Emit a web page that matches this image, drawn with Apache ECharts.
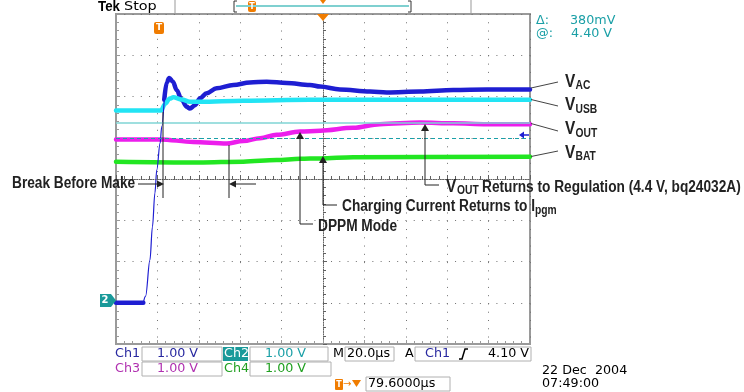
<!DOCTYPE html>
<html><head><meta charset="utf-8">
<script src="https://cdn.jsdelivr.net/npm/echarts@6/dist/echarts.min.js"></script>
<style>html,body{margin:0;padding:0;background:#fff}#c{width:744px;height:392px}</style>
</head><body><div id="c"></div>
<script>
// ---- data (time in µs, 20 µs/div; amplitude in screen divisions, 1 V/div) ----
const timeRange = [-100, 100];
const divRange = [-4, 4];
const vAC = [[-100,-3.00],[-86.8,-3.00],[-85.7,-2.84],[-83.6,-1.96],[-82.4,-1.16],[-81.2,-0.34],[-80.3,0.22],[-78.7,0.87],[-77.9,1.27],[-76.7,1.92],[-75.5,2.34],[-74.3,2.45],[-72.5,2.36],[-70.7,2.16],[-68.3,1.92],[-65.8,1.75],[-64.3,1.71],[-61.8,1.79],[-59.4,1.96],[-56.2,2.08],[-51.4,2.20],[-43.3,2.28],[-35.3,2.34],[-27.2,2.36],[-17.5,2.33],[-6.3,2.28],[-1.4,2.24],[8.2,2.17],[22.7,2.12],[30.8,2.10],[46.9,2.12],[62.9,2.16],[79.1,2.17],[100,2.17]];
const vUSB = [[-100,1.66],[-78.3,1.66],[-76.3,1.82],[-74.0,1.95],[-72.3,1.98],[-68.3,1.93],[-64.3,1.87],[-59.4,1.87],[-38.5,1.90],[-6.3,1.92],[46.9,1.92],[100,1.92]];
const vOUT = [[-100,0.96],[-78.7,0.96],[-62.7,0.90],[-46.5,0.86],[-38.5,0.92],[-30.4,0.99],[-22.4,1.07],[-11.1,1.15],[-1.4,1.17],[14.6,1.24],[27.5,1.33],[46.9,1.37],[62.9,1.35],[79.1,1.33],[100,1.33]];
const vBAT = [[-100,0.42],[-60,0.40],[-38.5,0.42],[-22.4,0.46],[-11.1,0.49],[-1.4,0.50],[14.6,0.53],[100,0.54]];
const acFastEdge = [-86.8, -76.7];
const cursorLevels = [1.36, 0.98];
const centerLevel = 0;
const traceNames = ['AC', 'USB', 'OUT', 'BAT'];
const channelNames = ['Ch1', 'Ch2', 'Ch3', 'Ch4'];
const channelScales = ['1.00 V', '1.00 V', '1.00 V', '1.00 V'];
const timebase = '20.0µs';
const triggerLevel = '4.10 V';
const triggerOffset = '79.6000µs';
const cursorReadout = ['380mV', '4.40 V'];
const dateLines = ['22 Dec  2004', '07:49:00'];

// ---- styles ----
const C_BLUE = '#1e1ed2', C_CYAN = '#22e4f4', C_MAG = '#ec1eec', C_GREEN = '#22e622';
const ORANGE = '#f07c00', TEAL = '#1a9fa6', TEAL_BG = '#1a9a9a';
const T_BLUE = '#2828a0', T_MAG = '#b030b0', T_GREEN = '#20a020';
const SCOPE = 'DejaVu Sans';
const LBLF = '"Liberation Sans", Arial, sans-serif';

function txt(x, y, s, o) {
  o = o || {};
  return {type:'text', x:x, y:y, scaleX:o.sx||1, z:100, silent:true,
    style:{text:s, fill:o.c||'#000', fontSize:o.fs||12, fontFamily:o.ff||SCOPE, fontWeight:o.fw||'normal',
      align:o.al||'left', verticalAlign:'middle', textAlign:o.al||'left', textVerticalAlign:'middle'}};
}
function ln(x1,y1,x2,y2,c,w,dash) {
  return {type:'line', z:100, silent:true, shape:{x1:x1,y1:y1,x2:x2,y2:y2}, style:{stroke:c||'#222', lineWidth:w||1, lineDash:dash||null}};
}
function pl(pts,c,w){ return {type:'polyline', z:100, silent:true, shape:{points:pts}, style:{stroke:c||'#222', lineWidth:w||1, fill:null}}; }
function pg(pts,c){ return {type:'polygon', z:100, silent:true, shape:{points:pts}, style:{fill:c||'#222'}}; }
function rc(x,y,w,h,fill,stroke,r){ return {type:'rect', z:95, silent:true, shape:{x:x,y:y,width:w,height:h,r:r||0}, style:{fill:fill||'#fff', stroke:stroke||null, lineWidth:1}}; }

const LBL = {fs:16, fw:'bold', ff:LBLF, sx:0.855, c:'#222'};
const VBIG = {fs:18, fw:'bold', ff:LBLF, sx:0.855, c:'#222'};
const SUB = {fs:12, fw:'bold', ff:LBLF, sx:0.855, c:'#222'};
const ST = {fs:12, sx:1.06};

const g = [];
// header
g.push(txt(98,7,'Tek',{fs:14,fw:'bold',ff:LBLF,sx:0.95}));
g.push(txt(124,7,'Stop',{fs:12,sx:1.2}));
g.push(ln(175,0,175,14,'#999',1));
g.push(pl([[237,1],[234,1],[234,12],[237,12]],'#333',1));
g.push(pl([[408,1],[411,1],[411,12],[408,12]],'#333',1));
g.push(ln(236,6,409,6,'#7fd0d0',2));
g.push(rc(248,1,8,11,ORANGE,null,2));
g.push(txt(252,6.5,'T',{fs:8,fw:'bold',c:'#fff',al:'center'}));
g.push(pg([[320,0],[326,0],[323,4]],ORANGE));
g.push(ln(471,0,471,14,'#999',1));
// markers on the graticule
g.push(pg([[317,14],[329,14],[323,21]],ORANGE));
g.push(rc(154,22,10,12,ORANGE,null,2));
g.push(txt(159,28,'T',{fs:9,fw:'bold',c:'#fff',al:'center'}));
g.push(pg([[100,294],[111,294],[116,300.5],[111,307],[100,307]],TEAL_BG));
g.push(txt(105,300.5,'2',{fs:10,fw:'bold',c:'#fff',al:'center'}));
g.push(pg([[519,135],[524,131.5],[524,138.5]],C_BLUE));
g.push(ln(524,135,529,135,C_BLUE,1.5));
// cursor readout
g.push(txt(536,21,'Δ:',{c:TEAL,fs:12,sx:1.06}));
g.push(txt(570,21,cursorReadout[0],{c:TEAL,fs:12,sx:1.06}));
g.push(txt(536,34,'@:',{c:TEAL,fs:12,sx:1.06}));
g.push(txt(571,34,cursorReadout[1],{c:TEAL,fs:12,sx:1.06}));
// trace labels
const lab = [[88,82,82,86],[99.5,106,105.5,109.5],[123.5,131,129.5,133.5],[156.5,151,153,157]];
lab.forEach(function(l,i){
  g.push(ln(531,l[0],558,l[1],'#444',1));
  g.push(txt(565,l[2],'V',VBIG));
  g.push(txt(575.5,l[3],traceNames[i],SUB));
});
// annotations
g.push(txt(12,184,'Break Before Make',LBL));
g.push(ln(138,184,158,184));
g.push(pg([[164,184],[157,180.5],[157,187.5]]));
g.push(ln(163,112,163,198));
g.push(ln(229,145,229,198));
g.push(pg([[229,184],[236,180.5],[236,187.5]]));
g.push(ln(236,184,256,184));

g.push(pg([[300,132],[296,139],[304,139]]));
g.push(ln(300,138,300,224));
g.push(ln(300,224,313,224));
g.push(txt(318,226.5,'DPPM Mode',LBL));

g.push(pg([[323,156],[319,163],[327,163]]));
g.push(ln(323,162,323,205));
g.push(ln(323,205,337,205));
g.push(txt(342,206.5,'Charging Current Returns to I',LBL));
g.push(txt(535,211,'pgm',SUB));

g.push(pg([[425,124],[421,131],[429,131]]));
g.push(ln(425,130,425,185));
g.push(ln(425,185,439,185));
g.push(txt(446,187,'V',VBIG));
g.push(txt(457,190.5,'OUT',SUB));
g.push(txt(482,188,'Returns to Regulation (4.4 V, bq24032A)',LBL));

// status bar
const chCol = [T_BLUE, TEAL, T_MAG, T_GREEN];
g.push(txt(115,354,channelNames[0],Object.assign({c:T_BLUE},ST)));
g.push(rc(142,347,80,14,'#fff','#b0b0b0'));
g.push(txt(157,354,channelScales[0],Object.assign({c:chCol[0]},ST)));
g.push(rc(223,347,25,14,TEAL_BG));
g.push(txt(224,354,channelNames[1],Object.assign({c:'#fff'},ST)));
g.push(rc(250,347,78,14,'#fff','#b0b0b0'));
g.push(txt(265,354,channelScales[1],Object.assign({c:chCol[1]},ST)));
g.push(txt(333,354,'M',ST));
g.push(rc(345,347,49,14,'#fff','#b0b0b0'));
g.push(txt(347,354,timebase,ST));
g.push(txt(405,354,'A',ST));
g.push(rc(415,347,116,14,'#fff','#b0b0b0'));
g.push(txt(425,354,channelNames[0],Object.assign({c:T_BLUE},ST)));
g.push(pl([[459,359],[462,359],[465,349],[468,349]],'#000',1.5));
g.push(txt(488,354,triggerLevel,ST));

g.push(txt(115,369,channelNames[2],Object.assign({c:T_MAG},ST)));
g.push(rc(142,362,80,14,'#fff','#b0b0b0'));
g.push(txt(157,369,channelScales[2],Object.assign({c:chCol[2]},ST)));
g.push(txt(224,369,channelNames[3],Object.assign({c:T_GREEN},ST)));
g.push(rc(250,362,81,14,'#fff','#b0b0b0'));
g.push(txt(265,369,channelScales[3],Object.assign({c:chCol[3]},ST)));

g.push(rc(335,379,8,11,ORANGE,null,1));
g.push(txt(339,384.5,'T',{fs:8,fw:'bold',c:'#fff',al:'center'}));
g.push(txt(343,384.5,'→',{fs:10,c:ORANGE}));
g.push(pg([[352,380],[361,380],[356.5,387]],ORANGE));
g.push(rc(366,377,84,14,'#fff','#b0b0b0'));
g.push(txt(368,384,triggerOffset,ST));
g.push(txt(542,371,dateLines[0],ST));
g.push(txt(542,384,dateLines[1],ST));

// ---- axes ----
const FRAME = '#9a9a9a';
const CENTER = '#606060';
const gridDots = {show:true, lineStyle:{color:'#707070', width:1, type:[1, 7.27]}};
const centerLine = {show:true, onZero:true, lineStyle:{color:CENTER, width:1, type:[1,1.3]}};
const centerTick = {show:true, inside:true, length:4, lineStyle:{color:CENTER}};
const centerMinor = {show:true, splitNumber:5, length:3, lineStyle:{color:CENTER}};
const xAxes = [
  {gridIndex:0, type:'value', min:timeRange[0], max:timeRange[1], interval:20, position:'bottom',
   axisLabel:{show:false},
   axisLine:{show:true, onZero:false, lineStyle:{color:FRAME, width:2}},
   axisTick:{show:true, inside:true, length:4, lineStyle:{color:FRAME}},
   minorTick:{show:true, splitNumber:5, length:3, lineStyle:{color:FRAME}},
   splitLine:gridDots},
  {gridIndex:0, type:'value', min:timeRange[0], max:timeRange[1], interval:20, position:'bottom',
   axisLabel:{show:false}, splitLine:{show:false},
   axisLine:Object.assign({onZeroAxisIndex:0}, centerLine), axisTick:centerTick, minorTick:centerMinor},
  {gridIndex:1, type:'value', min:timeRange[0], max:timeRange[1], interval:20, position:'bottom',
   axisLabel:{show:false}, splitLine:{show:false}, axisTick:{show:false},
   axisLine:{show:false, onZero:false}}
];
const yAxes = [
  {gridIndex:0, type:'value', min:divRange[0], max:divRange[1], interval:1, position:'left',
   axisLabel:{show:false},
   axisLine:{show:true, onZero:false, lineStyle:{color:FRAME, width:2}},
   axisTick:{show:true, inside:true, length:4, lineStyle:{color:FRAME}},
   minorTick:{show:true, splitNumber:5, length:3, lineStyle:{color:FRAME}},
   splitLine:gridDots},
  {gridIndex:1, type:'value', min:divRange[0], max:divRange[1], interval:1, position:'left',
   axisLabel:{show:false}, splitLine:{show:false},
   axisLine:centerLine, axisTick:centerTick, minorTick:centerMinor}
];

function trace(name, data, color, width, z) {
  return {type:'line', name:name, data:data, xAxisIndex:0, yAxisIndex:0, showSymbol:false, symbol:'none',
    smooth:0.35, smoothMonotone:'x', silent:true, z:z||2, clip:true,
    lineStyle:{color:color, width:width, cap:'round', join:'round'}};
}
const acBefore = vAC.filter(function(p){return p[0] <= acFastEdge[0];});
const acAfter = vAC.filter(function(p){return p[0] >= acFastEdge[1];});
const acEdge = vAC.filter(function(p){return p[0] >= acFastEdge[0] && p[0] <= acFastEdge[1];});

const series = [
  {type:'line', data:[[timeRange[0], divRange[0]]], xAxisIndex:0, yAxisIndex:0, showSymbol:false, symbol:'none', silent:true,
   lineStyle:{opacity:0}, z:1,
   markLine:{silent:true, symbol:['none','none'], label:{show:false}, animation:false,
     data:[{yAxis:centerLevel, lineStyle:{color:CENTER, width:1, type:[1,1.3]}},
           {yAxis:cursorLevels[0], lineStyle:{color:'#7fd4d4', width:1.6, type:'solid'}},
           {yAxis:cursorLevels[1], lineStyle:{color:'#1aa0a8', width:1.2, type:[4,3]}}]}},
  trace('VAC', acBefore, C_BLUE, 4.5),
  trace('VAC', acAfter, C_BLUE, 4.5),
  trace('VUSB', vUSB, C_CYAN, 4.5),
  trace('VOUT', vOUT, C_MAG, 4.5),
  trace('VBAT', vBAT, C_GREEN, 4.5),
  trace('VAC', acEdge, C_BLUE, 1.2, 3)
];

const chart = echarts.init(document.getElementById('c'), null, {renderer:'canvas', width:744, height:392});
chart.setOption({
  animation:false,
  backgroundColor:'#fff',
  grid:[{left:116, top:14, width:414, height:330, show:true, borderColor:FRAME, borderWidth:2, backgroundColor:'transparent'},
        {left:116, top:14, width:414, height:330, show:false}],
  xAxis:xAxes, yAxis:yAxes, series:series,
  graphic:{elements:g}
});
</script>
</body></html>
